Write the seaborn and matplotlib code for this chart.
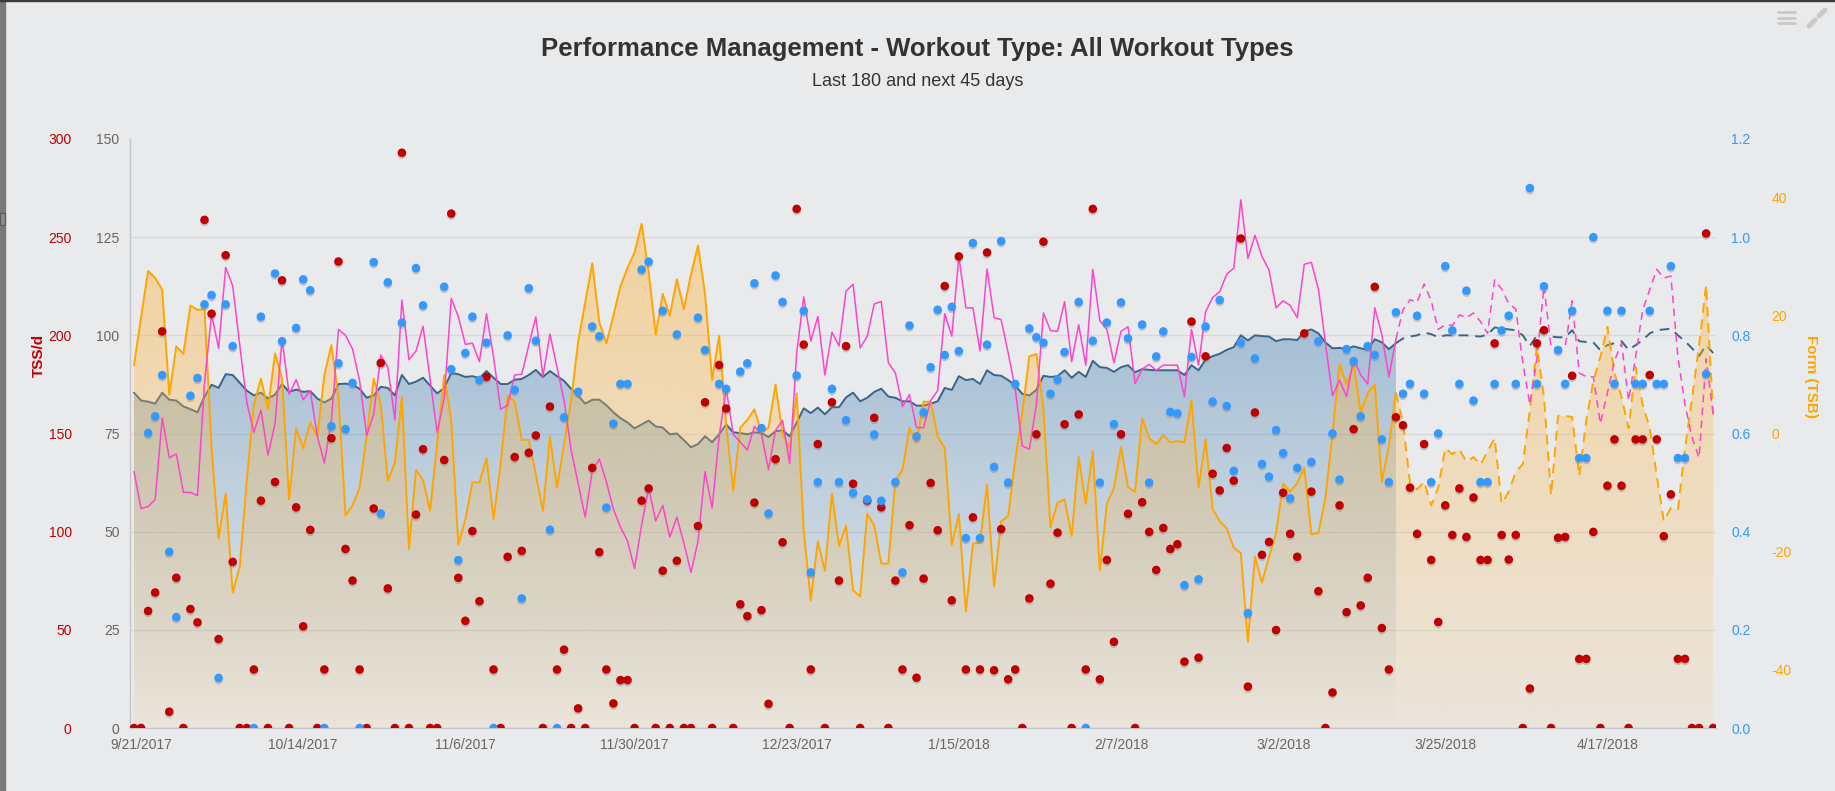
import numpy as np
import pandas as pd
import matplotlib
matplotlib.use("Agg")
import matplotlib.pyplot as plt
import matplotlib.dates as mdates
import matplotlib.patheffects as pe
from matplotlib.patches import PathPatch, Rectangle
from matplotlib.lines import Line2D
from matplotlib.colors import to_rgb
import seaborn as sns

# ---- data (one value per day, starting 9/20/2017; last 180 days + next 45) ----
START = "2017-09-20"
TODAY = 179  # index of the last completed day

ctl = [85.4, 83.4, 83.1, 82.6, 85.4, 83.6, 83.4, 81.9, 81.2, 80.4,
       84.4, 87.4, 86.6, 90.1, 89.9, 87.9, 85.9, 84.7, 85.4, 83.9,
       84.9, 87.6, 85.6, 86.2, 85.6, 85.8, 83.9, 82.9, 83.9, 87.6,
       87.7, 87.4, 86.4, 84.1, 84.7, 86.9, 86.6, 84.7, 89.9, 87.6,
       88.2, 89.2, 87.2, 85.2, 86.6, 90.4, 90.1, 89.4, 89.6, 89.1,
       90.9, 89.2, 87.6, 87.6, 88.7, 88.9, 89.9, 91.2, 89.4, 90.9,
       89.6, 88.4, 86.4, 84.6, 82.6, 83.6, 83.6, 82.2, 80.4, 78.9,
       77.8, 76.3, 77.3, 78.3, 76.8, 76.5, 74.8, 75.0, 73.3, 71.5,
       72.3, 74.3, 72.8, 74.8, 77.3, 75.3, 75.1, 74.8, 75.3, 75.1,
       74.1, 75.6, 75.8, 74.3, 77.8, 81.4, 80.2, 81.6, 79.9, 81.7,
       81.7, 84.2, 85.4, 83.2, 84.1, 85.6, 86.4, 84.4, 84.1, 83.2,
       83.2, 82.1, 82.1, 82.6, 83.2, 86.6, 86.1, 89.6, 88.6, 88.9,
       87.6, 91.1, 89.9, 89.7, 88.6, 87.2, 85.1, 84.7, 86.1, 89.7,
       89.4, 89.6, 91.1, 89.2, 90.7, 89.4, 93.5, 91.9, 91.7, 90.7,
       91.9, 92.4, 90.6, 91.4, 91.2, 91.1, 91.1, 91.1, 91.1, 89.9,
       92.4, 91.1, 93.8, 94.7, 95.3, 96.3, 97.0, 100.0, 98.7, 100.0,
       99.8, 99.7, 98.5, 99.0, 99.0, 98.8, 101.0, 101.5, 100.5, 98.2,
       96.7, 96.8, 96.5, 97.2, 96.7, 96.3, 99.0, 98.2, 96.5, 98.0,
       99.2, 99.7, 100.0, 100.7, 100.3, 99.5, 100.0, 100.0, 100.0, 100.0,
       99.8, 99.7, 100.2, 102.0, 101.8, 101.5, 101.3, 100.0, 97.3, 100.0,
       101.5, 99.7, 99.5, 99.5, 101.3, 98.5, 98.3, 98.2, 96.2, 97.5,
       98.0, 98.5, 96.3, 97.5, 98.8, 100.5, 101.3, 101.5, 101.7, 100.0,
       98.5, 96.7, 94.7, 97.5, 95.5]

atl = [65.3, 55.9, 56.4, 58.2, 78.9, 68.8, 69.8, 60.0, 60.0, 59.2,
       88.0, 105.3, 96.7, 117.3, 112.6, 97.5, 82.9, 75.3, 81.0, 69.5,
       77.5, 99.0, 85.0, 88.7, 83.6, 85.9, 74.3, 67.5, 78.3, 101.5,
       100.0, 96.5, 88.4, 74.5, 79.9, 95.0, 91.9, 78.5, 109.0, 93.8,
       96.0, 102.3, 88.9, 75.3, 83.9, 109.4, 104.8, 97.7, 98.0, 93.3,
       105.5, 94.5, 81.2, 82.2, 89.9, 90.1, 97.5, 104.7, 89.6, 100.3,
       91.9, 83.4, 70.8, 62.2, 53.7, 65.5, 68.5, 62.7, 55.7, 51.2,
       47.6, 40.6, 51.7, 61.2, 52.7, 56.7, 48.6, 53.7, 47.1, 39.6,
       47.6, 65.3, 56.0, 74.3, 86.4, 74.8, 72.8, 70.8, 76.8, 74.8,
       65.8, 75.8, 78.3, 67.3, 95.5, 109.8, 98.5, 104.8, 89.9, 100.8,
       97.3, 111.3, 113.0, 96.8, 99.7, 108.0, 108.6, 93.0, 90.4, 81.9,
       84.9, 76.5, 76.5, 83.4, 85.9, 105.5, 99.8, 120.1, 107.0, 107.0,
       96.0, 116.9, 104.5, 104.0, 95.5, 86.4, 71.8, 71.0, 82.4, 105.7,
       101.2, 101.0, 108.6, 93.3, 102.7, 92.4, 116.8, 103.7, 101.5, 93.0,
       101.0, 102.2, 87.7, 91.4, 92.6, 91.1, 92.4, 92.4, 92.4, 84.4,
       101.5, 92.4, 106.0, 109.6, 111.1, 115.6, 117.1, 134.5, 119.6, 125.5,
       120.1, 116.6, 107.0, 108.8, 107.6, 104.5, 118.1, 118.6, 111.8, 98.0,
       84.6, 88.6, 84.4, 94.2, 89.9, 87.6, 107.0, 100.2, 89.4, 99.0,
       106.5, 109.1, 108.4, 113.1, 108.8, 101.5, 102.7, 102.5, 105.2, 104.5,
       105.7, 103.5, 100.5, 114.1, 111.8, 108.1, 106.7, 93.0, 82.4, 94.0,
       112.6, 97.0, 96.7, 97.0, 108.8, 90.4, 89.5, 89.4, 77.5, 85.4,
       93.5, 98.0, 83.4, 94.5, 106.5, 111.6, 116.8, 114.6, 115.1, 94.5,
       82.4, 74.0, 68.8, 94.0, 79.9]

tsb = [11.6, 19.7, 27.6, 26.4, 24.4, 6.6, 14.8, 13.5, 21.7, 21.0,
       21.1, -2.5, -17.8, -10.2, -27.0, -22.6, -7.9, 4.9, 9.3, 4.2,
       13.6, 9.3, -11.2, 0.9, -2.5, 1.9, -0.5, 9.9, 15.0, 6.2,
       -13.9, -12.2, -9.2, -0.5, 9.3, 4.9, -8.0, -5.0, 6.2, -19.6,
       -6.2, -7.9, -13.1, -1.8, 9.9, 2.2, -18.9, -14.6, -8.3, -8.3,
       -4.2, -14.5, -5.2, 6.4, 5.4, -1.1, -1.1, -7.0, -13.1, -0.5,
       -9.2, -1.8, 5.6, 15.6, 22.3, 28.9, 18.9, 15.3, 20.0, 25.0,
       28.1, 30.7, 35.6, 27.4, 16.8, 23.7, 20.0, 26.2, 21.1, 27.0,
       31.9, 23.7, 9.1, 16.6, 1.5, -9.7, 1.0, 2.3, 4.1, 0.2,
       1.0, 8.3, -0.1, -2.5, 6.8, -16.6, -28.3, -18.3, -23.3, -10.2,
       -19.1, -15.6, -26.6, -27.7, -13.6, -15.6, -22.1, -22.1, -8.0, -6.2,
       1.0, -1.5, 5.4, 5.4, -0.5, -2.5, -18.9, -13.7, -30.2, -18.7,
       -18.5, -8.7, -26.0, -14.9, -14.0, -4.5, 3.6, 13.1, 13.5, 4.2,
       -15.9, -11.7, -11.2, -17.4, -4.0, -11.9, -3.0, -23.3, -11.9, -9.3,
       -2.3, -9.1, -9.9, 2.6, -0.8, -1.8, -0.3, -1.5, -1.3, -1.5,
       5.6, -9.2, -1.0, -12.8, -14.9, -16.1, -19.4, -20.3, -35.4, -20.9,
       -25.3, -20.9, -16.9, -8.5, -9.9, -8.4, -5.8, -17.1, -16.9, -10.9,
       -0.1, 11.8, 8.3, 11.7, 3.6, 6.9, 8.3, -8.2, -2.1, 6.9,
       1.9, -8.5, -9.5, -8.2, -12.2, -9.2, -2.5, -3.5, -2.7, -4.8,
       -4.0, -5.3, -3.0, -0.8, -11.9, -9.9, -6.5, -5.2, 4.0, 14.8,
       6.2, -10.5, 3.0, 3.0, 2.8, -7.2, 2.2, 8.9, 13.0, 18.1,
       10.3, 6.2, 0.9, 11.3, 4.9, 0.9, -7.2, -14.9, -12.6, -12.9,
       -2.5, 5.9, 15.0, 25.2, 3.2]

tss = [0, 0, 59.6, 69, 202, 8.3, 76.5, 0, 60.6, 53.8,
       258.8, 211, 45.3, 240.8, 84.6, 0, 0, 29.8, 115.8, 0,
       125.3, 228, 0, 112.4, 51.8, 100.9, 0, 29.8, 147.6, 237.6,
       91.2, 75.1, 29.8, 0, 111.8, 185.9, 71.1, 0, 293, 0,
       108.7, 142, 0, 0, 136.5, 262, 76.5, 54.6, 100.3, 64.6,
       178.8, 29.8, 0, 87.2, 138, 90.2, 140.2, 149, 0, 163.7,
       29.8, 39.9, 0, 10, 0, 132.5, 89.6, 29.8, 12.5, 24.4,
       24.4, 0, 115.8, 122, 0, 80.1, 0, 85.2, 0, 0,
       102.9, 165.9, 0, 184.9, 162.7, 0, 63, 57, 114.8, 60,
       12.3, 136.9, 94.6, 0, 264.4, 195.3, 29.8, 144.6, 0, 165.9,
       75.1, 194.5, 124.4, 0, 115.8, 158, 112.4, 0, 75.1, 29.8,
       103.3, 25.6, 76.1, 124.8, 100.7, 225.1, 65, 240.2, 29.8, 107.3,
       29.8, 242.2, 29.4, 101.3, 24.8, 29.8, 0, 66, 149.6, 247.7,
       73.5, 99.5, 154.7, 0, 159.7, 29.8, 264.4, 24.8, 85.6, 43.9,
       149.6, 109.1, 0, 115, 99.9, 80.5, 101.9, 91.2, 93.6, 33.8,
       207, 35.8, 189.3, 129.5, 121, 142.6, 126, 249.3, 21.1, 160.7,
       88.2, 94.8, 49.9, 119.8, 98.9, 87.2, 201, 120.4, 69.7, 0,
       18.1, 113.4, 59, 152.2, 62.4, 76.5, 224.7, 50.9, 29.8, 158.3,
       154.2, 122.4, 98.9, 144.6, 85.6, 54, 113.4, 98.3, 122, 97.3,
       117.4, 85.6, 85.6, 195.9, 98.3, 85.8, 98.3, 0, 20.1, 195.9,
       202.6, 0, 96.9, 97.3, 179.4, 35.2, 35.2, 99.9, 0, 123.4,
       147, 123.4, 0, 147, 147, 179.8, 147, 97.7, 119, 35.2,
       35.2, 0, 0, 251.9, 0]

intensity = [None, None, 0.601, 0.635, 0.719, 0.359, 0.226, None, 0.677, 0.713,
             0.863, 0.882, 0.102, 0.863, 0.778, None, None, 0.0, 0.838, None,
             0.926, 0.788, None, 0.815, 0.914, 0.892, None, 0.0, 0.615, 0.743,
             0.609, 0.703, 0.0, None, 0.949, 0.437, 0.908, None, 0.826, None,
             0.937, 0.861, None, None, 0.899, 0.731, 0.342, 0.764, 0.838, 0.709,
             0.785, 0.0, None, 0.8, 0.689, 0.264, 0.896, 0.789, None, 0.404,
             0.0, 0.633, None, 0.685, None, 0.818, 0.798, 0.449, 0.62, 0.701,
             0.701, None, 0.934, 0.95, None, 0.85, None, 0.802, None, None,
             0.836, 0.77, None, 0.701, 0.691, None, 0.726, 0.743, 0.906, 0.611,
             0.437, 0.922, 0.868, None, 0.718, 0.85, 0.317, 0.501, None, 0.691,
             0.501, 0.627, 0.479, None, 0.466, 0.598, 0.463, None, 0.501, 0.317,
             0.82, 0.594, 0.643, 0.735, 0.852, 0.76, 0.858, 0.768, 0.387, 0.988,
             0.387, 0.781, 0.532, 0.992, 0.5, 0.701, None, 0.814, 0.796, 0.785,
             0.681, 0.71, 0.766, None, 0.868, 0.0, 0.789, 0.5, 0.826, 0.619,
             0.867, 0.794, None, 0.822, 0.5, 0.757, 0.808, 0.644, 0.641, 0.291,
             0.756, 0.303, 0.818, 0.665, 0.872, 0.656, 0.524, 0.785, 0.234, 0.753,
             0.538, 0.512, 0.607, 0.56, 0.468, 0.53, None, 0.542, 0.788, None,
             0.6, 0.506, 0.772, 0.747, 0.635, 0.778, 0.76, 0.588, 0.501, 0.847,
             0.681, 0.701, 0.84, 0.681, 0.501, 0.6, 0.941, 0.81, 0.701, 0.891,
             0.667, 0.501, 0.501, 0.701, 0.81, 0.84, 0.701, None, 1.1, 0.701,
             0.9, None, 0.77, 0.701, 0.85, 0.55, 0.55, 1.0, None, 0.85,
             0.701, 0.85, None, 0.701, 0.701, 0.85, 0.701, 0.701, 0.941, 0.55,
             0.55, None, None, 0.721, None]

tick_dates = ["2017-09-21", "2017-10-14", "2017-11-06", "2017-11-30", "2017-12-23",
              "2018-01-15", "2018-02-07", "2018-03-02", "2018-03-25", "2018-04-17"]

# ---- colours ----
BG = "#e9eaec"
RED = "#c00000"
BLUE_DOT = "#3399ff"
CTL_LINE = "#3a6589"
CTL_FILL = "#4682b4"
PINK = "#ff44cc"
ORANGE = "#ffa500"
TSB_FILL = "#ffb43c"
GRAY_TXT = "#666666"

sns.set_style("white")
plt.rcParams["font.family"] = ["Liberation Sans", "DejaVu Sans"]
plt.rcParams["axes.unicode_minus"] = False

df = pd.DataFrame({
    "date": pd.date_range(START, periods=len(ctl)),
    "ctl": ctl, "atl": atl, "tsb": tsb,
    "tss": np.array(tss, dtype=float),
    "ifv": np.array([np.nan if v is None else v for v in intensity], dtype=float),
})
df["xn"] = mdates.date2num(df["date"])
past = df.iloc[:TODAY + 1]
future = df.iloc[TODAY:]

W, H = 1835, 791
L, R, T, B = 130, 1716, 139, 728
fig = plt.figure(figsize=(W / 100, H / 100), dpi=100, facecolor=BG)
ax = fig.add_axes([L / W, 1 - B / H, (R - L) / W, (B - T) / H])
ax.set_facecolor(BG)


def gradient_fill(axis, xs, lower, upper, color, y_lo, y_hi, a_lo, a_hi, z):
    poly = axis.fill_between(xs, lower, upper, facecolor="none", edgecolor="none", linewidth=0)
    clip = PathPatch(poly.get_paths()[0], transform=axis.transData,
                     facecolor="none", edgecolor="none")
    axis.add_patch(clip)
    img = np.zeros((256, 1, 4))
    img[:, 0, :3] = to_rgb(color)
    img[:, 0, 3] = np.linspace(a_lo, a_hi, 256)
    im = axis.imshow(img, extent=[xs[0], xs[-1], y_lo, y_hi], origin="lower",
                     aspect="auto", interpolation="bilinear", zorder=z)
    im.set_clip_path(clip)


xlim = (df["xn"].iloc[0] - 0.57, df["xn"].iloc[-1] + 0.4)
dash = (0, (5, 3.5))

# fitness (CTL) area + line
gradient_fill(ax, past["xn"].values, 0, past["ctl"].values, CTL_FILL, 0, 102, 0.0, 0.42, 1)
sns.lineplot(data=past, x="xn", y="ctl", ax=ax, color=CTL_LINE, linewidth=1.4, zorder=3)
sns.lineplot(data=future, x="xn", y="ctl", ax=ax, color=CTL_LINE, linewidth=1.4,
             linestyle=dash, zorder=3)

ax.set_ylim(0, 150)
ax.set_yticks(range(0, 151, 25))
ax.yaxis.grid(True, color="#d6d8db", linewidth=1)
ax.set_axisbelow(True)
for s in ["top", "right"]:
    ax.spines[s].set_visible(False)
for s in ["left", "bottom"]:
    ax.spines[s].set_color("#c4c6c9")
    ax.spines[s].set_linewidth(1)
ax.tick_params(axis="y", length=0, pad=7.5, labelcolor=GRAY_TXT, labelsize=10)
ax.set_xticks(mdates.date2num(pd.to_datetime(tick_dates)))
ax.set_xticklabels([f"{d.month}/{d.day}/{d.year}" for d in pd.to_datetime(tick_dates)])
ax.tick_params(axis="x", length=0, pad=7, labelcolor=GRAY_TXT, labelsize=10)
ax.set_xlabel("")
ax.set_ylabel("")
ax.get_ygridlines()[-1].set_visible(False)

# form (TSB) area + line
ax_tsb = ax.twinx()
gradient_fill(ax_tsb, df["xn"].values, -50, df["tsb"].values, TSB_FILL, -50, 50, 0.1, 0.5, 1)
sns.lineplot(data=past, x="xn", y="tsb", ax=ax_tsb, color=ORANGE, linewidth=1.4, zorder=3)
sns.lineplot(data=future, x="xn", y="tsb", ax=ax_tsb, color=ORANGE, linewidth=1.4,
             linestyle=dash, zorder=3)
ax_tsb.set_ylim(-50, 50)
ax_tsb.set_yticks([-40, -20, 0, 20, 40])
ax_tsb.tick_params(axis="y", length=0, pad=40, labelcolor=ORANGE, labelsize=10)
ax_tsb.set_ylabel("Form (TSB)", color=ORANGE, fontsize=11, fontweight="bold", rotation=270)
ax_tsb.yaxis.set_label_coords(1.064, 0.596)

# fatigue (ATL) line
ax_atl = ax.twinx()
sns.lineplot(data=past, x="xn", y="atl", ax=ax_atl, color=PINK, linewidth=1.1)
sns.lineplot(data=future, x="xn", y="atl", ax=ax_atl, color=PINK, linewidth=1.1,
             linestyle=dash)
ax_atl.set_ylim(0, 150)
ax_atl.set_yticks([])
ax_atl.set_ylabel("")

shadow = [pe.SimplePatchShadow(offset=(0, -1.5), shadow_rgbFace="#777777", alpha=0.35), pe.Normal()]

# TSS per day dots
ax_tss = ax.twinx()
sns.scatterplot(data=df, x="xn", y="tss", ax=ax_tss, color=RED, s=38,
                edgecolor="none", linewidth=0, zorder=5)
ax_tss.collections[-1].set_path_effects(shadow)
ax_tss.set_ylim(0, 300)
ax_tss.yaxis.tick_left()
ax_tss.set_yticks(range(0, 301, 50))
ax_tss.tick_params(axis="y", length=0, pad=42, labelcolor=RED, labelsize=10)
ax_tss.yaxis.set_label_position("left")
ax_tss.set_ylabel("TSS/d", color=RED, fontsize=11, fontweight="bold")
ax_tss.yaxis.set_label_coords(-0.053, 0.633)

# intensity factor dots
ax_if = ax.twinx()
sns.scatterplot(data=df, x="xn", y="ifv", ax=ax_if, color=BLUE_DOT, s=38,
                edgecolor="none", linewidth=0, zorder=5)
ax_if.collections[-1].set_path_effects(shadow)
ax_if.set_ylim(0, 1.2)
ax_if.set_yticks(np.arange(0, 1.21, 0.2))
ax_if.set_yticklabels([f"{v:.1f}" for v in np.arange(0, 1.21, 0.2)])
ax_if.tick_params(axis="y", length=0, pad=11, labelcolor=BLUE_DOT, labelsize=10)
ax_if.set_ylabel("")

for a in [ax_tsb, ax_atl, ax_tss, ax_if]:
    for s in a.spines.values():
        s.set_visible(False)
    a.set_xlabel("")
for a in [ax, ax_tsb, ax_atl, ax_tss, ax_if]:
    a.set_xlim(*xlim)

# titles
fig.text(0.5, 1 - 49 / H, "Performance Management - Workout Type: All Workout Types",
         ha="center", va="center", fontsize=18.5, fontweight="bold", color="#333333")
fig.text(0.5, 1 - 82 / H, "Last 180 and next 45 days",
         ha="center", va="center", fontsize=13, color="#333333")

# window chrome: left strip, top edge, menu icons
fig.add_artist(Rectangle((0, 0), 5 / W, 1, transform=fig.transFigure, color="#7a7a7a"))
fig.add_artist(Rectangle((0, 1 - 225 / H), 5 / W, 12 / H, transform=fig.transFigure,
                         facecolor="#8a8a8a", edgecolor="#5a5a5a", linewidth=0.8))
fig.add_artist(Rectangle((0, 1 - 1 / H), 1, 1 / H, transform=fig.transFigure, color="#3a3a3a"))
for yy in (12, 17.5, 23):
    fig.add_artist(Line2D([1778 / W, 1795 / W], [1 - yy / H, 1 - yy / H],
                          transform=fig.transFigure, color="#c9c9c9", linewidth=2))
fig.add_artist(Line2D([1809 / W, 1815 / W], [1 - 26 / H, 1 - 20 / H],
                      transform=fig.transFigure, color="#c9c9c9", linewidth=3.5))
fig.add_artist(Line2D([1819 / W, 1825 / W], [1 - 16 / H, 1 - 10 / H],
                      transform=fig.transFigure, color="#c9c9c9", linewidth=3.5))

fig.savefig("out.png", dpi=100, facecolor=BG)
